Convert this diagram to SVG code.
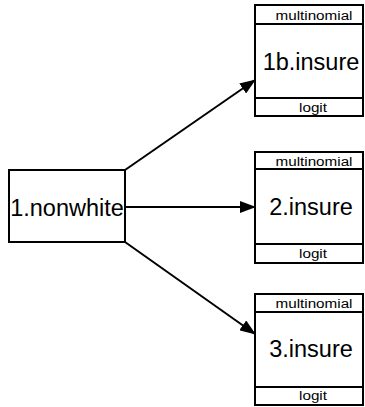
<svg xmlns="http://www.w3.org/2000/svg" width="365" height="407" viewBox="0 0 365 407">
<defs>
<style>
.box{fill:#fff;stroke:#000;stroke-width:2}
.div{stroke:#000;stroke-width:2}
.t{font-family:"Liberation Sans",Arial,sans-serif;fill:#000;text-anchor:middle}
.big{font-size:23.5px}
.sm{font-size:12px}
.edge{stroke:#000;stroke-width:2;fill:none}
</style>
<marker id="ah" markerWidth="16" markerHeight="12" refX="15" refY="6" orient="auto" markerUnits="userSpaceOnUse">
<path d="M0,0 L16,6 L0,12 Z" fill="#000"/>
</marker>
</defs>
<g id="connectors">
<line class="edge" x1="125" y1="170" x2="255" y2="80" marker-end="url(#ah)"/>
<line class="edge" x1="125" y1="207" x2="255" y2="207" marker-end="url(#ah)"/>
<line class="edge" x1="125" y1="242" x2="255" y2="334" marker-end="url(#ah)"/>
</g>
<g id="n1nonwhite">
<rect class="box" x="9" y="170" width="116" height="72"/>
<text class="t big" x="67" y="216">1.nonwhite</text>
</g>
<g id="n1binsure">
<rect class="box" x="255" y="5" width="108" height="111"/>
<line class="div" x1="255" y1="24" x2="363" y2="24"/>
<line class="div" x1="255" y1="98" x2="363" y2="98"/>
<text class="t sm" x="314" y="20" textLength="77" lengthAdjust="spacingAndGlyphs">multinomial</text>
<text class="t big" x="311" y="70">1b.insure</text>
<text class="t sm" x="313" y="112" textLength="28" lengthAdjust="spacingAndGlyphs">logit</text>
</g>
<g id="n2insure">
<rect class="box" x="255" y="152" width="108" height="111"/>
<line class="div" x1="255" y1="169" x2="363" y2="169"/>
<line class="div" x1="255" y1="244" x2="363" y2="244"/>
<text class="t sm" x="314" y="166" textLength="77" lengthAdjust="spacingAndGlyphs">multinomial</text>
<text class="t big" x="311" y="215">2.insure</text>
<text class="t sm" x="313" y="258" textLength="28" lengthAdjust="spacingAndGlyphs">logit</text>
</g>
<g id="n3insure">
<rect class="box" x="255" y="294" width="108" height="111"/>
<line class="div" x1="255" y1="312" x2="363" y2="312"/>
<line class="div" x1="255" y1="387" x2="363" y2="387"/>
<text class="t sm" x="314" y="308" textLength="77" lengthAdjust="spacingAndGlyphs">multinomial</text>
<text class="t big" x="311" y="357">3.insure</text>
<text class="t sm" x="313" y="400" textLength="28" lengthAdjust="spacingAndGlyphs">logit</text>
</g>
</svg>
